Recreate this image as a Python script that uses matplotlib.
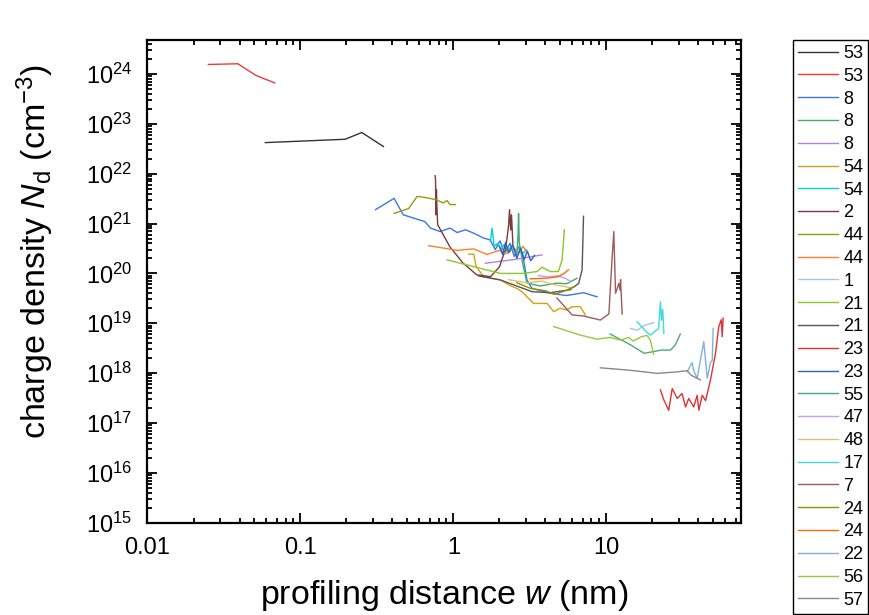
import numpy as np
import matplotlib
matplotlib.use("Agg")
import matplotlib.pyplot as plt
from matplotlib.ticker import LogLocator, NullFormatter

plt.rcParams['font.family'] = ['Liberation Sans', 'DejaVu Sans']
plt.rcParams['mathtext.fontset'] = 'custom'
plt.rcParams['mathtext.rm'] = 'Liberation Sans'
plt.rcParams['mathtext.it'] = 'Liberation Sans:italic'

# legend labels, in plot order
labels = ["53", "53", "8", "8", "8", "54", "54", "2", "44", "44", "1", "21", "21",
          "23", "23", "55", "47", "48", "17", "7", "24", "24", "22", "56", "57"]
colors = ["#333333", "#ee3b3b", "#3a78e0", "#3cae6e", "#b57ee8", "#d4a017", "#00cfe0",
          "#7a3b3b", "#9a9a10", "#ff7f2a", "#a8c4e0", "#8ac926", "#555555",
          "#dd3333", "#2a62c8", "#4caa78", "#c7a0ee", "#e0c070", "#40dada",
          "#a05a5a", "#909000", "#ff6a00", "#80b0e0", "#96c83c", "#888888"]

# profiling distance w (nm) and charge density Nd (cm^-3) for each trace
w_53a = [0.059, 0.196, 0.252, 0.349]
n_53a = [4.2e22, 4.9e22, 6.7e22, 3.5e22]
w_53b = [0.025, 0.039, 0.051, 0.068]
n_53b = [1.55e24, 1.6e24, 9.4e23, 6.6e23]
w_8a = [0.31, 0.41, 0.47, 0.58, 0.65, 0.71, 0.82, 0.95, 1.06, 1.2, 1.36, 1.58, 1.74,
        1.88, 2.02, 2.16, 2.35, 2.5, 2.7, 2.85, 3.03, 3.27, 4.3, 5.5, 7.1, 8.7]
n_8a = [1.9e21, 3.2e21, 1.5e21, 1.22e21, 1.1e21, 8.1e20, 6.9e20, 8.1e20, 6.6e20, 7.5e20,
        6.4e20, 5.1e20, 4.7e20, 3e20, 4.5e20, 2.5e20, 4e20, 2.2e20, 3.5e20, 2.3e20,
        7.4e19, 5e19, 4e19, 3.6e19, 4.1e19, 3.4e19]
w_8b = [2.55, 2.6, 2.65, 2.67, 2.7, 2.75, 2.85, 3.03, 3.7, 4.76, 5.5, 6.45]
n_8b = [3e20, 2.2e20, 6e20, 1.6e21, 4e20, 3e20, 1.5e20, 6.4e19, 5.6e19, 6.4e19, 6.2e19, 8e19]
w_8c = [1.62, 2.5, 3.8]
n_8c = [1.6e20, 1.9e20, 2.35e20]
w_54a = [1.26, 1.36, 1.41, 1.58, 2.03, 2.3, 2.6, 2.81, 3.03, 3.35, 4.1, 4.53, 5.0, 5.5,
         5.97, 6.76, 7.3]
n_54a = [2.43e20, 2.43e20, 1.37e20, 8.6e19, 7.4e19, 5.9e19, 5e19, 4.3e19, 3.4e19, 2.5e19,
         2.5e19, 1.71e19, 2e19, 1.85e19, 2.15e19, 2.15e19, 1.47e19]
w_54b = [1.75, 1.79, 1.85, 1.95, 2.05, 2.15, 2.25, 2.4, 2.55, 2.7, 2.85, 3.0]
n_54b = [4.5e20, 8e20, 3.5e20, 4e20, 3e20, 3.8e20, 2.8e20, 3.5e20, 2.6e20, 3.3e20, 2.5e20, 3e20]
w_2 = [0.76, 0.765, 0.77, 0.775, 0.78, 0.79, 0.95, 1.16, 1.42, 1.75, 2.0, 2.19, 2.25,
       2.3, 2.33, 2.37, 2.4, 2.45]
n_2 = [9.1e21, 7.5e21, 1.5e21, 4.8e21, 2.4e21, 9.5e20, 3.4e20, 1.6e20, 9.4e19, 8.6e19,
       1.35e20, 3e20, 5.4e20, 9.6e20, 1.9e21, 7.4e20, 1.5e21, 4e20]
w_44a = [0.41, 0.51, 0.58, 0.67, 0.77, 0.86, 0.91, 0.95, 1.03]
n_44a = [1.6e21, 2e21, 3.5e21, 3.3e21, 3e21, 2.6e21, 2.9e21, 2.4e21, 2.4e21]
w_44b = [0.69, 1.06, 1.36, 1.66, 2.0, 2.24, 2.5, 2.7, 2.85, 3.0]
n_44b = [3.6e20, 2.9e20, 3.1e20, 2.4e20, 2.9e20, 2.5e20, 3.2e20, 2.6e20, 3.5e20, 2.8e20]
w_1 = [14.4, 15.9, 18.0, 20.4]
n_1 = [7.9e18, 7.3e18, 9.2e18, 1.03e19]
w_21a = [0.91, 2.03, 2.87, 3.52, 3.8, 4.31, 4.86, 5.14, 5.24, 5.32]
n_21a = [1.87e20, 1e20, 1e20, 1.09e20, 1.33e20, 1.09e20, 1.09e20, 1.87e20, 4e20, 7.5e20]
w_21b = [1.46, 2.03, 3.27, 4.3, 5.8, 6.6, 6.95, 7.1]
n_21b = [8.9e19, 7.4e19, 4.3e19, 4.1e19, 4.7e19, 6.3e19, 1.18e20, 1.4e21]
w_23a = [22.6, 23.8, 25.6, 27.0, 29.1, 31.3, 33.0, 34.6, 37.3, 39.3, 40.3, 42.4, 44.6,
         48.0, 51.8, 54.4, 56.5, 57.3, 58.1]
n_23a = [4.6e17, 2.9e17, 1.8e17, 4.9e17, 3.1e17, 3.9e17, 2.1e17, 3.1e17, 2.1e17, 3.6e17,
         1.8e17, 3.6e17, 2.8e17, 7.3e17, 2.5e18, 8.6e18, 1.18e19, 5.4e18, 1.27e19]
w_23b = [2.0, 2.1, 2.2, 2.3, 2.45, 2.6, 2.75, 2.9, 3.05, 3.2, 3.4]
n_23b = [3.5e20, 2.4e20, 4.2e20, 2.6e20, 3.8e20, 2e20, 3.2e20, 1.9e20, 2.8e20, 1.8e20, 2.3e20]
w_55 = [10.6, 14.4, 17.7, 22.9, 26.3, 28.3, 30.5]
n_55 = [6.1e18, 3.7e18, 2.5e18, 2.9e18, 2.9e18, 3.7e18, 6.1e18]
w_47 = [3.6, 4.2, 4.8, 5.4, 5.8]
n_47 = [9e19, 8.5e19, 9e19, 8e19, 7e19]
w_48 = [2.3, 3.0, 3.8, 4.5, 5.3, 6.0]
n_48 = [7.5e19, 6.5e19, 7e19, 6e19, 5.5e19, 5e19]
w_17 = [15.9, 18.0, 19.4, 22.0, 22.6, 23.0, 23.4, 23.8]
n_17 = [1.08e19, 7.1e18, 5.8e18, 7.9e18, 2.7e19, 1.15e19, 1.9e19, 6.3e18]
w_7 = [4.76, 5.97, 7.1, 9.15, 10.4, 10.9, 11.2, 11.5, 12.1, 12.3, 12.4, 12.7]
n_7 = [3.2e19, 1.47e19, 1.4e19, 1.16e19, 1.54e19, 1.87e20, 6.9e20, 4e19, 6.3e19, 4.6e19,
       7.5e19, 1.53e19]
w_24a = [2.6, 3.2, 4.0, 4.6, 5.4, 6.2]
n_24a = [6.5e19, 5e19, 4.5e19, 3.8e19, 4.5e19, 5.5e19]
w_24b = [3.18, 4.0, 4.8, 5.3, 5.65]
n_24b = [7.8e19, 8e19, 8.5e19, 1e20, 1.18e20]
w_22 = [33.8, 36.4, 37.3, 39.3, 43.4, 45.7, 48.0, 49.3, 50.0]
n_22 = [1.07e18, 1.62e18, 1.13e18, 7.9e17, 4.3e18, 7.9e17, 1.62e18, 1.8e18, 7.9e18]
w_56 = [4.53, 6.76, 8.7, 10.6, 12.4, 14.0, 15.0, 17.0, 18.5, 19.4, 20.4]
n_56 = [8.6e18, 5.8e18, 4.8e18, 5.2e18, 4.6e18, 5.2e18, 4.4e18, 5.4e18, 5.7e18, 4.6e18, 2.4e18]
w_57 = [9.15, 14.0, 21.5, 28.0, 33.8, 36.0, 41.3]
n_57 = [1.28e18, 1.15e18, 9.9e17, 1.05e18, 1.12e18, 9e17, 7.3e17]

traces = [(w_53a, n_53a), (w_53b, n_53b), (w_8a, n_8a), (w_8b, n_8b), (w_8c, n_8c),
          (w_54a, n_54a), (w_54b, n_54b), (w_2, n_2), (w_44a, n_44a), (w_44b, n_44b),
          (w_1, n_1), (w_21a, n_21a), (w_21b, n_21b), (w_23a, n_23a), (w_23b, n_23b),
          (w_55, n_55), (w_47, n_47), (w_48, n_48), (w_17, n_17), (w_7, n_7),
          (w_24a, n_24a), (w_24b, n_24b), (w_22, n_22), (w_56, n_56), (w_57, n_57)]

fig = plt.figure(figsize=(8.7, 6.15), dpi=100)
ax = fig.add_axes([0.1695, 0.150, 0.6822, 0.785])

for (w, n), lab, col in zip(traces, labels, colors):
    ax.plot(w, n, color=col, lw=1.0, label=lab)

ax.set_xscale("log")
ax.set_yscale("log")
ax.set_xlim(0.01, 76)
ax.set_ylim(1e15, 4.8e24)

for axis in (ax.xaxis, ax.yaxis):
    axis.set_major_locator(LogLocator(base=10, numticks=30))
    axis.set_minor_locator(LogLocator(base=10, subs=np.arange(2, 10), numticks=300))
    axis.set_minor_formatter(NullFormatter())

ax.xaxis.set_major_formatter(plt.FuncFormatter(lambda v, p: f"{v:g}"))

for s in ax.spines.values():
    s.set_linewidth(1.6)
ax.tick_params(which="both", direction="in", top=True, right=True, width=1.3)
ax.tick_params(which="major", length=7, labelsize=17)
ax.tick_params(which="minor", length=3.5)
ax.tick_params(axis="x", pad=10)
ax.tick_params(axis="y", pad=11)

ax.set_xlabel("profiling distance $\\mathit{w}$ (nm)", fontsize=24.5, labelpad=14)
ax.set_ylabel("charge density $\\mathit{N}_\\mathrm{d}$ (cm$^{-3}$)", fontsize=24.5)
ax.yaxis.set_label_coords(-0.154, 0.562)

leg = ax.legend(loc="upper left", bbox_to_anchor=(0.9115, 0.935), bbox_transform=fig.transFigure,
                fontsize=13, labelspacing=0.32, handlelength=2.2, handletextpad=0.3,
                borderpad=0.28, borderaxespad=0, fancybox=False, framealpha=1)
leg.get_frame().set_edgecolor("black")
leg.get_frame().set_linewidth(1.0)

fig.savefig("out.png", dpi=100)
